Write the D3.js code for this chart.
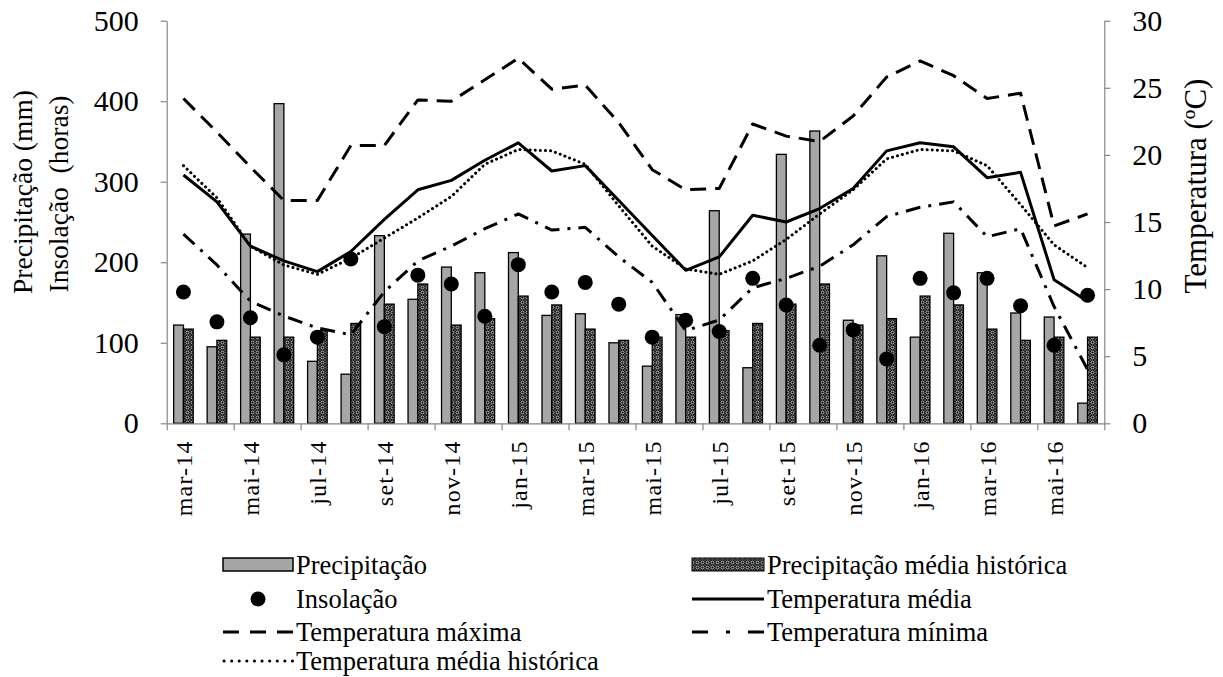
<!DOCTYPE html>
<html>
<head>
<meta charset="utf-8">
<script src="https://cdn.jsdelivr.net/npm/d3@7"></script>
<style>
  body { margin: 0; background: #fff; }
  svg { display: block; }
  text { font-family: "Liberation Serif", "Times New Roman", serif; fill: #000; }
</style>
</head>
<body>
<svg id="chart" width="1223" height="677"></svg>
<script>
// Monthly series, March 2014 – June 2016
const months = ["mar-14","abr-14","mai-14","jun-14","jul-14","ago-14","set-14","out-14","nov-14","dez-14",
  "jan-15","fev-15","mar-15","abr-15","mai-15","jun-15","jul-15","ago-15","set-15","out-15","nov-15","dez-15",
  "jan-16","fev-16","mar-16","abr-16","mai-16","jun-16"];

// Precipitação (mm)
const precip = [122,95,235,397,77,61,233,154,194,187,212,134,136,100,71,135,264,69,334,363,128,208,107,236,187,137,132,25];
// Precipitação média histórica (mm)
const precipHist = [117,103,107,107,115,124,148,173,122,130,158,147,117,103,107,107,115,124,148,173,122,130,158,147,117,103,107,107];
// Insolação (horas)
const insol = [163,126,131,85,107,204,120,184,173,133,197,163,175,148,107,128,114,180,147,97,116,80,180,162,180,146,97,159];
// Temperaturas (°C)
const tMed  = [18.5,16.5,13.2,12.1,11.3,12.8,15.2,17.4,18.1,19.6,20.9,18.8,19.2,16.6,14.0,11.4,12.4,15.5,15.0,16.0,17.5,20.3,20.9,20.6,18.3,18.7,10.7,9.1];
const tMax  = [24.2,21.7,19.1,16.6,16.6,20.7,20.7,24.1,24.0,25.6,27.2,24.9,25.2,22.4,18.9,17.4,17.5,22.3,21.4,21.0,22.9,25.8,27.0,25.9,24.2,24.6,14.7,15.6];
const tMin  = [14.1,11.8,9.1,8.0,7.1,6.6,9.8,12.1,13.2,14.5,15.6,14.4,14.6,12.4,10.5,6.9,7.7,10.1,10.8,11.7,13.3,15.4,16.1,16.5,13.9,14.5,8.7,4.0];
const tHist = [19.2,16.8,13.2,11.8,11.1,12.3,13.8,15.3,16.9,19.3,20.4,20.3,19.3,16.2,13.2,11.5,11.1,12.1,13.7,15.6,17.4,19.7,20.4,20.3,19.2,16.3,13.3,11.6];

// Axis ticks
const leftTicks = [0,100,200,300,400,500];
const rightTicks = [0,5,10,15,20,25,30];

const svg = d3.select("#chart");
const L = 166.7, R = 1104.3, T = 20.7, B = 423.3;

const x = d3.scaleBand().domain(months).range([L, R]).padding(0);
const xs = d3.scaleBand().domain(["p","h"]).range([0, x.bandwidth()]).paddingInner(0).paddingOuter(0.71);
const xi = d3.scaleLinear().domain([0, months.length]).range([L, R]);
const yL = d3.scaleLinear().domain([0, 500]).range([B, T]);
const yR = d3.scaleLinear().domain([0, 30]).range([B, T]);
const cx = m => x(m) + x.bandwidth() / 2;

// Fill pattern for the historical rainfall bars
const defs = svg.append("defs");
const pat = defs.append("pattern").attr("id", "histPat")
  .attr("patternUnits", "userSpaceOnUse").attr("width", 5).attr("height", 5);
pat.append("rect").attr("width", 5).attr("height", 5).attr("fill", "#111");
pat.append("circle").attr("cx", 2.5).attr("cy", 2.5).attr("r", 1.5)
  .attr("fill", "none").attr("stroke", "#dcdcdc").attr("stroke-width", 0.8);
[[0,0],[5,0],[0,5],[5,5]].forEach(([a,b]) =>
  pat.append("circle").attr("cx", a).attr("cy", b).attr("r", 0.7).attr("fill", "#999"));

// Bars
const bars = svg.append("g");
months.forEach((m, i) => {
  bars.append("rect")
    .attr("x", x(m) + xs("p")).attr("width", xs.bandwidth())
    .attr("y", yL(precip[i])).attr("height", B - yL(precip[i]))
    .attr("fill", "#a6a6a6").attr("stroke", "#000").attr("stroke-width", 1.3);
  bars.append("rect")
    .attr("x", x(m) + xs("h")).attr("width", xs.bandwidth())
    .attr("y", yL(precipHist[i])).attr("height", B - yL(precipHist[i]))
    .attr("fill", "url(#histPat)").attr("stroke", "#000").attr("stroke-width", 1.3);
});

// Axes
const axisColor = "#868686";
const gL = svg.append("g").attr("transform", `translate(${L},0)`)
  .call(d3.axisLeft(yL).tickValues(leftTicks).tickSize(6).tickSizeOuter(0).tickPadding(22));
const gR = svg.append("g").attr("transform", `translate(${R},0)`)
  .call(d3.axisRight(yR).tickValues(rightTicks).tickSize(6).tickSizeOuter(0).tickPadding(22));
const gB = svg.append("g").attr("transform", `translate(0,${B})`)
  .call(d3.axisBottom(xi).tickValues(d3.range(0, months.length + 1, 2)).tickFormat("").tickSize(7).tickSizeOuter(0));
[gL, gR, gB].forEach(g => {
  g.selectAll(".domain").attr("stroke", axisColor).attr("stroke-width", 1.2);
  g.selectAll(".tick line").attr("stroke", axisColor).attr("stroke-width", 1.2);
  g.selectAll(".tick text").style("font-family", "'Liberation Serif', serif").style("font-size", "30px").attr("fill", "#000");
});

// Month labels on every second category
const xl = svg.append("g");
months.forEach((m, i) => {
  if (i % 2) return;
  xl.append("text")
    .attr("transform", `translate(${cx(m) + 9},${B + 17}) rotate(-90)`)
    .attr("text-anchor", "end").style("font-size", "24px").style("letter-spacing", "1.2px")
    .text(m);
});

// Temperature lines
const line = d3.line().x((d, i) => cx(months[i])).y(d => yR(d));
const styles = [
  { data: tMax, dash: "16,9", cap: "butt" },
  { data: tMin, dash: "15,8,3,8", cap: "butt" },
  { data: tHist, dash: "0.1,5", cap: "round" },
  { data: tMed, dash: null, cap: "butt" }
];
styles.forEach(s => {
  svg.append("path").datum(s.data).attr("d", line)
    .attr("fill", "none").attr("stroke", "#000").attr("stroke-width", 3)
    .attr("stroke-dasharray", s.dash).attr("stroke-linecap", s.cap).attr("stroke-linejoin", "round");
});

// Sunshine hours
svg.append("g").selectAll("circle").data(insol).join("circle")
  .attr("cx", (d, i) => cx(months[i])).attr("cy", d => yL(d)).attr("r", 7.5).attr("fill", "#000");

// Axis titles
svg.append("text").attr("transform", "translate(32,192) rotate(-90)").attr("text-anchor", "middle")
  .style("font-size", "27.5px").text("Precipitação (mm)");
svg.append("text").attr("transform", "translate(68,194) rotate(-90)").attr("text-anchor", "middle")
  .style("font-size", "27.5px").style("white-space", "pre").text("Insolação  (horas)");
svg.append("text").attr("transform", "translate(1206,186) rotate(-90)").attr("text-anchor", "middle")
  .style("font-size", "31px").text("Temperatura (ºC)");

// Legend
const lg = svg.append("g");
const fs = "26.5px";
function label(xp, yp, t) {
  lg.append("text").attr("x", xp).attr("y", yp).attr("dy", "0.35em").style("font-size", fs).text(t);
}
// row 1
lg.append("rect").attr("x", 223).attr("y", 558).attr("width", 70).attr("height", 13)
  .attr("fill", "#a6a6a6").attr("stroke", "#000").attr("stroke-width", 1.5);
label(296, 565, "Precipitação");
lg.append("rect").attr("x", 692).attr("y", 558).attr("width", 72).attr("height", 13)
  .attr("fill", "url(#histPat)").attr("stroke", "#000").attr("stroke-width", 1);
label(767, 565, "Precipitação média histórica");
// row 2
lg.append("circle").attr("cx", 258).attr("cy", 599).attr("r", 7.5).attr("fill", "#000");
label(296, 599, "Insolação");
lg.append("line").attr("x1", 692).attr("x2", 764).attr("y1", 599).attr("y2", 599)
  .attr("stroke", "#000").attr("stroke-width", 3);
label(767, 599, "Temperatura média");
// row 3
lg.append("line").attr("x1", 223).attr("x2", 293).attr("y1", 632).attr("y2", 632)
  .attr("stroke", "#000").attr("stroke-width", 3).attr("stroke-dasharray", "16,11");
label(296, 632, "Temperatura máxima");
lg.append("line").attr("x1", 692).attr("x2", 764).attr("y1", 632).attr("y2", 632)
  .attr("stroke", "#000").attr("stroke-width", 3).attr("stroke-dasharray", "16,18,4,18");
label(767, 632, "Temperatura mínima");
// row 4
lg.append("line").attr("x1", 224).attr("x2", 293).attr("y1", 661).attr("y2", 661)
  .attr("stroke", "#000").attr("stroke-width", 3).attr("stroke-dasharray", "0.1,7.5").attr("stroke-linecap", "round");
label(296, 661, "Temperatura média histórica");
</script>
</body>
</html>
